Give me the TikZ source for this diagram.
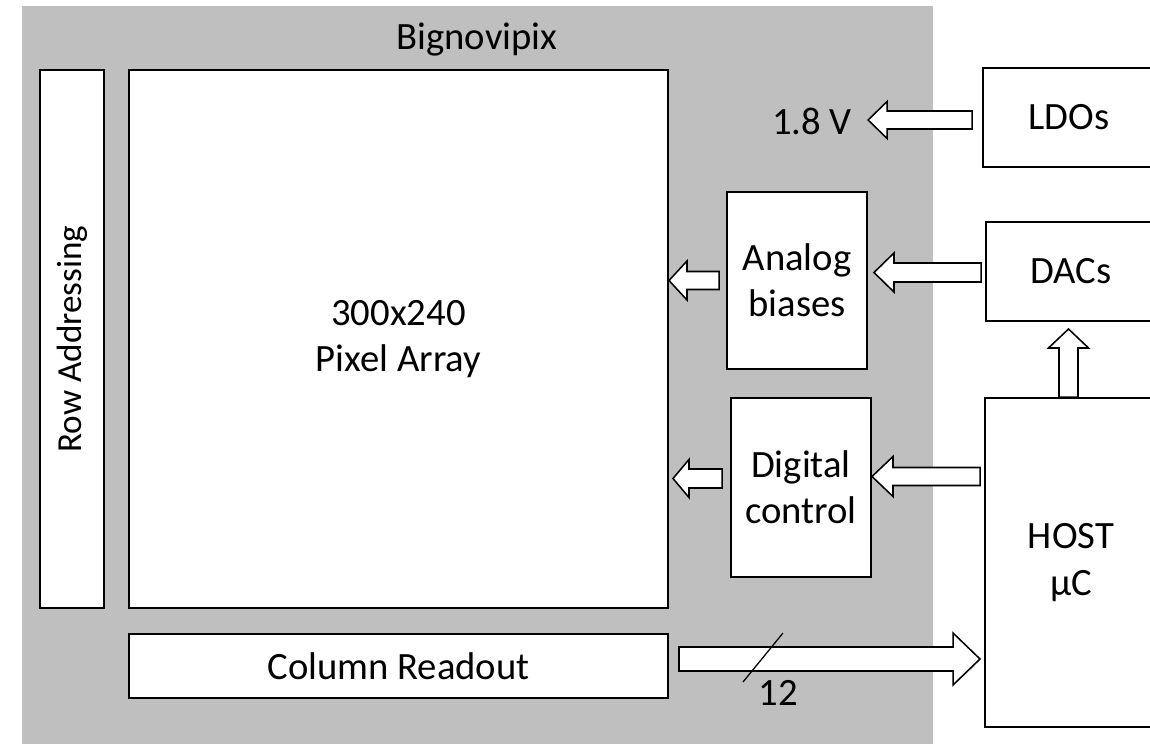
\documentclass[tikz,border=0pt]{standalone}
\usepackage{fontspec}
\setmainfont{Carlito}
\usetikzlibrary{calc,positioning}
\definecolor{chipfill}{RGB}{191,191,191}
\newcommand\blkfont{\fontsize{27.5}{33}\selectfont}

\begin{document}
\begin{tikzpicture}[x=0.025cm, y=-0.025cm, font=\blkfont,
  blk/.style={draw=black, line width=1.4pt, fill=white, inner sep=0pt, align=center},
  fat/.style={draw=black, line width=1.1pt, fill=white, line join=miter}]
% Chip block diagram on a pixel grid (y runs downwards).
% Fat arrows are closed outlines: tail, tip, shaft half-width,
% head half-width, head length (signed, measured back towards the tail).
\def\u{0.025cm}
\def\harrow#1#2#3#4#5{%
  \path (#1) coordinate (ha-t) (#2) coordinate (ha-q);
  \coordinate (ha-p) at (ha-q |- ha-t);
  \draw[fat] ($(ha-t)+(0,-#3)$) -- ($(ha-p)+(#5,-#3)$) -- ($(ha-p)+(#5,-#4)$) -- (ha-p)
    -- ($(ha-p)+(#5,#4)$) -- ($(ha-p)+(#5,#3)$) -- ($(ha-t)+(0,#3)$) -- cycle;}
\def\varrow#1#2#3#4#5{%
  \path (#1) coordinate (va-t) (#2) coordinate (va-q);
  \coordinate (va-p) at (va-t |- va-q);
  \draw[fat] ($(va-t)+(-#3,0)$) -- ($(va-p)+(-#3,#5)$) -- ($(va-p)+(-#4,#5)$) -- (va-p)
    -- ($(va-p)+(#4,#5)$) -- ($(va-p)+(#3,#5)$) -- ($(va-t)+(#3,0)$) -- cycle;}
\useasboundingbox (0,0) rectangle (1150,744);
\clip (0,0) rectangle (1150,744);
% chip area
\fill[chipfill] (22,6) rectangle (933,744);
\node (chip) at (477,40) {Bignovipix};
\node[blk, rotate=90, font=\fontsize{25}{30}\selectfont, minimum width={538*\u}, minimum height={64*\u}] (rowaddr) at (72,339) {Row Addressing};
\node[blk, minimum width={539*\u}, minimum height={538*\u}] (pixarr) at (398.5,339) {300x240\\Pixel Array};
\node[blk, minimum width={539*\u}, minimum height={64*\u}] (colro) at (398.5,666) {Column Readout};
\node[blk, minimum width={140*\u}, minimum height={177*\u}] (analog) at (797,280.5) {Analog\\biases};
\node[blk, minimum width={140*\u}, minimum height={179*\u}] (digital) at (801,487.5) {Digital\\control};
\node[inner sep=0pt] (v18) at (812,121) {1.8 V};
% off-chip parts
\node[blk, minimum width={172*\u}, minimum height={99*\u}] (ldo) at (1069,117.5) {LDOs};
\node[blk, minimum width={170*\u}, minimum height={99*\u}] (dac) at (1071,271.5) {DACs};
\node[blk, minimum width={172*\u}, minimum height={329*\u}] (host) at (1071,562.5) {HOST\\µC};
% fat arrows
\harrow{$(ldo.west)+(-10,2.5)$}{$(v18.east)+(16,0)$}{9}{18.5}{19}
\harrow{$(dac.west)+(-4,1)$}{$(analog.east)+(6,0)$}{9.5}{19.5}{20}
\harrow{$(analog.west)+(-7,0)$}{pixarr.east}{9}{19.5}{18}
\harrow{$(host.west)+(-4,-86)$}{digital.east}{9}{20}{21}
\harrow{$(digital.west)+(-8,-9)$}{$(pixarr.east)+(4,0)$}{9.5}{19}{16}
\harrow{$(colro.east)+(10,-7)$}{$(host.west)+(-4,0)$}{12}{26}{-27}
\varrow{$(host.north)+(-2.5,0)$}{$(dac.south)+(0,7)$}{9.5}{20}{19}
% 12-bit bus mark
\draw[line width=0.9pt] ($(colro.east)+(74,16)$) -- ++(40,-49);
\node (bus) at (778,693) {12};
\end{tikzpicture}
\end{document}
